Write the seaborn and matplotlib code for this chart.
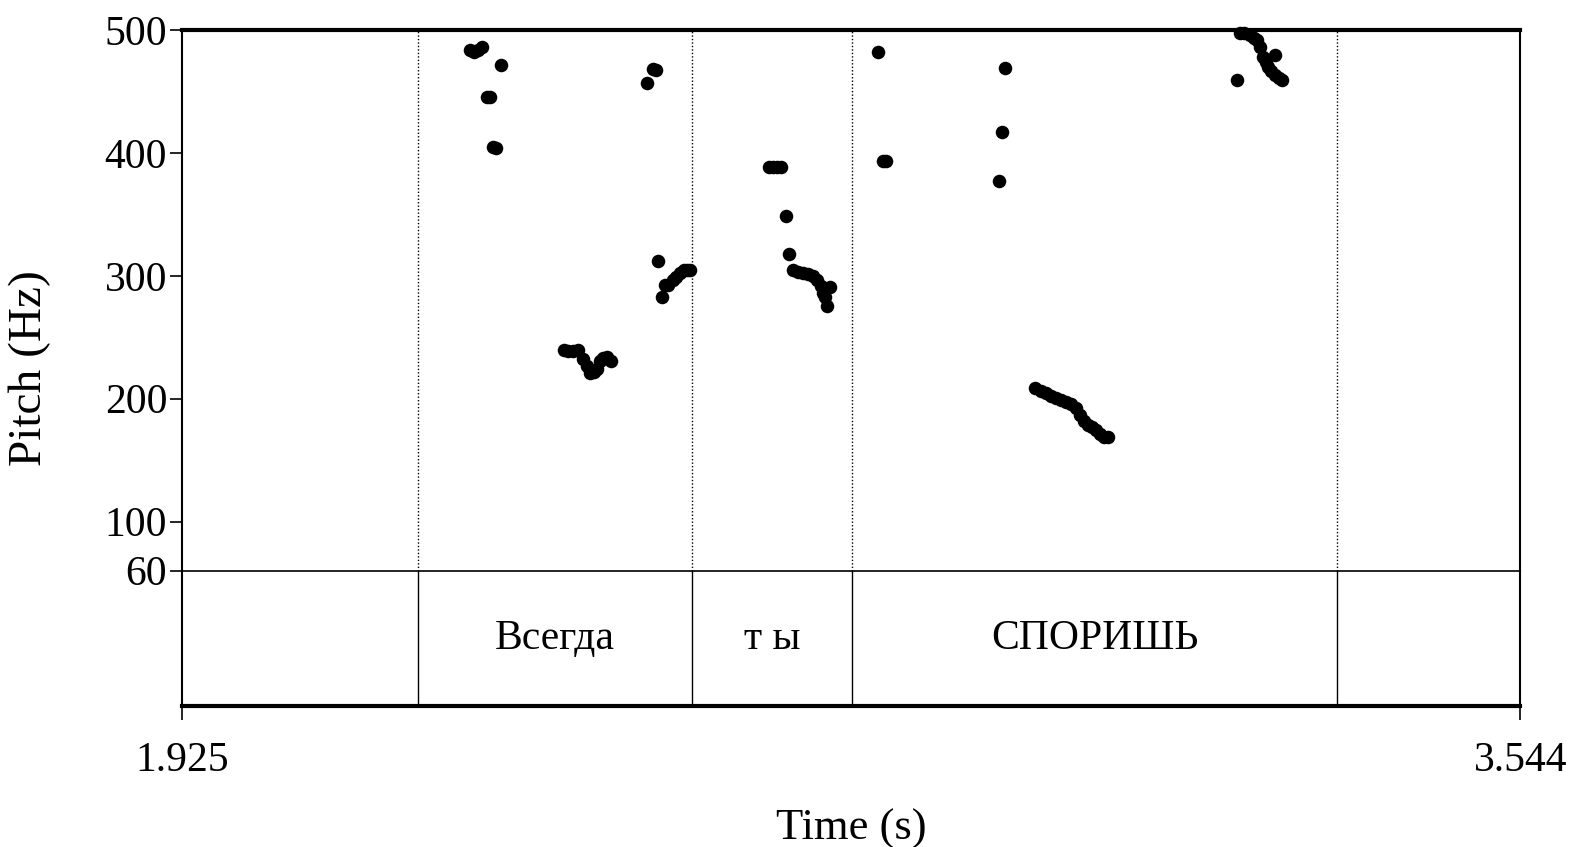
import numpy as np
import pandas as pd
import matplotlib
matplotlib.use("Agg")
import matplotlib.pyplot as plt
import seaborn as sns

# Pitch track (time in s, pitch in Hz)
time_s = [
    # Всегда
    2.2727, 2.2776, 2.2825, 2.2874, 2.2935, 2.2971, 2.3008, 2.3045, 2.3106,
    2.3862, 2.3918, 2.3972, 2.4039, 2.4100, 2.4143, 2.4179, 2.4228, 2.4265,
    2.4301, 2.4338, 2.4387, 2.4436,
    2.4867, 2.4939, 2.4978,
    2.5000, 2.5048, 2.5088, 2.5131, 2.5189, 2.5228, 2.5270, 2.5314, 2.5351, 2.5387,
    # ты
    2.6351, 2.6400, 2.6449, 2.6497, 2.6552, 2.6593,
    2.6640, 2.6693, 2.6754, 2.6815, 2.6876, 2.6925, 2.6974, 2.7000, 2.7022,
    2.7046, 2.7083,
    # СПОРИШЬ
    2.7669, 2.7730, 2.7767, 2.9133, 2.9170, 2.9206,
    2.9572, 2.9633, 2.9694, 2.9755, 2.9816, 2.9877, 2.9938, 2.9999, 3.0060,
    3.0109, 3.0158, 3.0206, 3.0255, 3.0304, 3.0353, 3.0402, 3.0451,
    3.2006, 3.2047, 3.2098, 3.2167, 3.2220, 3.2248, 3.2288, 3.2329, 3.2360,
    3.2390, 3.2427, 3.2470, 3.2513, 3.2550, 3.2470,
]
pitch_hz = [
    483.6, 481.9, 483.6, 486.0, 445.8, 445.8, 404.8, 404.0, 471.3,
    239.5, 239.1, 238.5, 239.7, 232.1, 226.5, 221.0, 221.5, 224.5,
    231.0, 233.0, 234.2, 230.5,
    456.8, 468.2, 468.0,
    312.4, 283.0, 292.6, 292.3, 296.7, 298.9, 302.1, 304.6, 304.8, 304.6,
    388.4, 388.4, 388.4, 388.4, 348.8, 317.6,
    304.8, 303.0, 302.6, 301.3, 299.6, 296.7, 291.5, 286.1, 282.5,
    275.1, 291.2,
    481.9, 393.3, 393.3, 376.9, 417.1, 469.6,
    208.6, 206.5, 204.5, 202.4, 200.4, 198.7, 197.5, 195.9, 192.2,
    186.4, 181.5, 178.6, 177.0, 174.9, 171.6, 169.2, 168.8,
    459.5, 497.5, 497.5, 496.1, 494.0, 492.0, 486.6, 478.5, 474.0,
    470.4, 466.5, 463.6, 461.0, 459.5, 479.9,
]

# TextGrid tier
boundaries = [2.2105, 2.5412, 2.7351, 3.3220]
words = ["Всегда", "т ы", "СПОРИШЬ"]
word_starts = [2.2105, 2.5412, 2.7351]
word_ends = [2.5412, 2.7351, 3.3220]

t_min, t_max = 1.925, 3.544
y_ticks = [60, 100, 200, 300, 400, 500]

df = pd.DataFrame({"Time": time_s, "Pitch": pitch_hz})

sns.set_style("white")
plt.rcParams['font.family'] = ['Liberation Serif', 'DejaVu Serif']
for key in ["text.color", "axes.labelcolor", "xtick.color", "ytick.color"]:
    plt.rcParams[key] = "black"

fig = plt.figure(figsize=(15.81, 8.47), dpi=100)
tier = fig.add_axes([0.1154, 0.1667, 0.8463, 0.1595])
ax = fig.add_axes([0.1154, 0.3262, 0.8463, 0.6381], sharex=tier)
ax.patch.set_alpha(0)

sns.scatterplot(data=df, x="Time", y="Pitch", ax=ax, color="black",
                s=95, linewidth=0, clip_on=False, zorder=3)

for b in boundaries:
    ax.axvline(b, color="black", linestyle=(0, (1, 1.5)), linewidth=1.0)
    tier.axvline(b, color="black", linewidth=1.0)

ax.set_xlim(t_min, t_max)
ax.set_ylim(60, 500)
ax.set_yticks(y_ticks)
ax.set_yticklabels([str(v) for v in y_ticks], fontsize=30)
ax.tick_params(axis="y", direction="out", length=9, width=1.2, pad=2, left=True)
ax.tick_params(axis="x", bottom=False, labelbottom=False)
ax.set_xlabel("")
ax.set_ylabel("")

for name, sp in ax.spines.items():
    sp.set_visible(True)
    sp.set_color("black")
ax.spines["top"].set_linewidth(3.0)
ax.spines["left"].set_linewidth(1.5)
ax.spines["right"].set_linewidth(1.5)
ax.spines["bottom"].set_linewidth(1.2)

tier.set_ylim(0, 1)
tier.set_yticks([])
for s, e, w in zip(word_starts, word_ends, words):
    tier.text((s + e) / 2, 0.5, w, ha="center", va="center", fontsize=30)
tier.set_xticks([t_min, t_max])
tier.set_xticklabels(["1.925", "3.544"], fontsize=30)
tier.tick_params(axis="x", direction="out", length=10, width=1.2, pad=16, bottom=True)
tier.set_xlabel("Time (s)", fontsize=32, labelpad=20)
for name, sp in tier.spines.items():
    sp.set_visible(True)
    sp.set_color("black")
tier.spines["top"].set_visible(False)
tier.spines["bottom"].set_linewidth(3.0)
tier.spines["left"].set_linewidth(1.5)
tier.spines["right"].set_linewidth(1.5)

# y label centred over the full drawing height, as Praat does
fig.text(0.019, 0.565, "Pitch (Hz)", rotation=90, ha="center", va="center",
         fontsize=34)

fig.savefig("out.png", dpi=100, facecolor="white")
